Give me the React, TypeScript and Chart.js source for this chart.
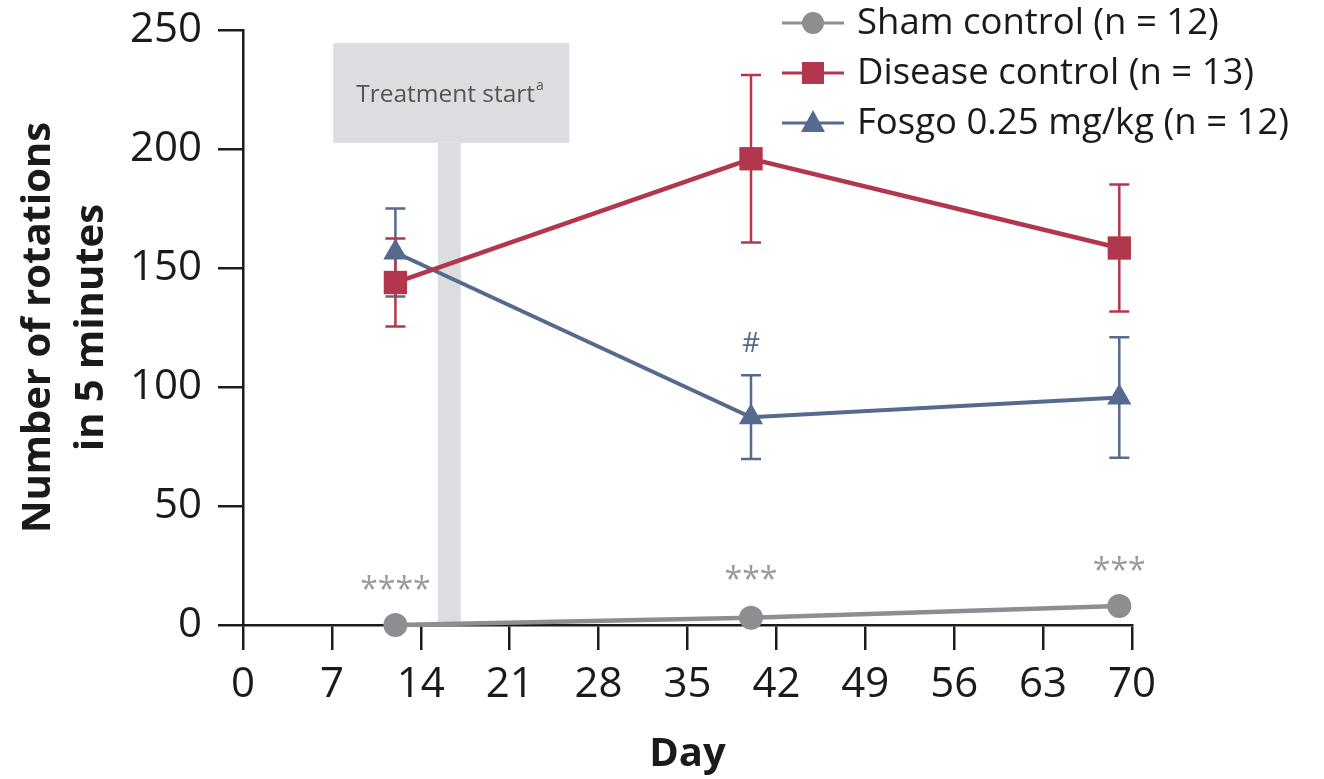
import React, { useEffect, useRef } from "react";
import { Chart, registerables } from "chart.js";

Chart.register(...registerables);

const days = [12, 40, 69];
const shamMeans = [0, 3, 8];
const shamErr = [0, 0, 0];
const diseaseMeans = [143.9, 195.9, 158.4];
const diseaseErr = [18.5, 35.2, 26.7];
const fosgoMeans = [156.5, 87.3, 95.6];
const fosgoErr = [18.5, 17.6, 25.3];

const seriesNames = ["Sham control (n = 12)", "Disease control (n = 13)", "Fosgo 0.25 mg/kg (n = 12)"];
const xTicks = [0, 7, 14, 21, 28, 35, 42, 49, 56, 63, 70];
const yTicks = [0, 50, 100, 150, 200, 250];

const treatmentBox = { x0: 7.1, x1: 25.7, y0: 202.6, y1: 244.5 };
const treatmentBar = { x0: 15.35, x1: 17.15 };
const treatmentLabel = { x: 16.3, y: 222.5, text: "Treatment start", sup: "a" };

const sigDays = [12, 40, 69];
const sigLabels = ["****", "***", "***"];
const sigY = [14.5, 18.5, 22.5];
const hashDay = 40;
const hashY = 118;

const GRAY = "#8d8e91";
const RED = "#b3374c";
const BLUE = "#56698f";
const AXIS = "#1c1c1c";
const BOX = "#dcdde0";
const FONT = "'Open Sans', sans-serif";

export default function App() {
  const ref = useRef<HTMLCanvasElement | null>(null);
  useEffect(() => {
    const canvas = ref.current;
    if (!canvas) return;

    const mk = (vals: number[]) => days.map((d, i) => ({ x: d, y: vals[i] }));
    const errs = [shamErr, diseaseErr, fosgoErr];
    const colors = [GRAY, RED, BLUE];

    const bgPlugin = {
      id: "treatment",
      beforeDatasetsDraw(chart: any) {
        const { ctx, scales } = chart;
        const x = scales.x, y = scales.y;
        ctx.save();
        ctx.fillStyle = BOX;
        const bx0 = x.getPixelForValue(treatmentBox.x0);
        const bx1 = x.getPixelForValue(treatmentBox.x1);
        const by0 = y.getPixelForValue(treatmentBox.y1);
        const by1 = y.getPixelForValue(treatmentBox.y0);
        ctx.fillRect(bx0, by0, bx1 - bx0, by1 - by0);
        const vx0 = x.getPixelForValue(treatmentBar.x0);
        const vx1 = x.getPixelForValue(treatmentBar.x1);
        const vy1 = y.getPixelForValue(0);
        ctx.fillRect(vx0, by1, vx1 - vx0, vy1 - by1);
        // label
        ctx.fillStyle = "#555555";
        ctx.font = `24.5px ${FONT}`;
        ctx.textBaseline = "middle";
        const tw = ctx.measureText(treatmentLabel.text).width;
        ctx.font = `14px ${FONT}`;
        const sw = ctx.measureText(treatmentLabel.sup).width;
        const cx = x.getPixelForValue(treatmentLabel.x);
        const cy = y.getPixelForValue(treatmentLabel.y);
        const start = cx - (tw + sw + 1) / 2;
        ctx.font = `24.5px ${FONT}`;
        ctx.textAlign = "left";
        ctx.fillText(treatmentLabel.text, start, cy);
        ctx.font = `14px ${FONT}`;
        ctx.fillText(treatmentLabel.sup, start + tw + 1, cy - 9);

        // error bars
        for (let di = 2; di >= 0; di--) {
          const meansArr = [shamMeans, diseaseMeans, fosgoMeans][di];
          const e = errs[di];
          ctx.strokeStyle = colors[di];
          ctx.lineWidth = 2.5;
          for (let i = 0; i < days.length; i++) {
            if (!e[i]) continue;
            const px = x.getPixelForValue(days[i]);
            const pt = y.getPixelForValue(meansArr[i] + e[i]);
            const pb = y.getPixelForValue(meansArr[i] - e[i]);
            ctx.beginPath();
            ctx.moveTo(px, pt);
            ctx.lineTo(px, pb);
            ctx.moveTo(px - 10, pt);
            ctx.lineTo(px + 10, pt);
            ctx.moveTo(px - 10, pb);
            ctx.lineTo(px + 10, pb);
            ctx.stroke();
          }
        }
        ctx.restore();
      },
      afterDatasetsDraw(chart: any) {
        const { ctx, scales } = chart;
        const x = scales.x, y = scales.y;
        ctx.save();
        ctx.textAlign = "center";
        ctx.textBaseline = "middle";
        ctx.fillStyle = "#9a9b9e";
        ctx.font = `32px ${FONT}`;
        for (let i = 0; i < sigDays.length; i++) {
          ctx.fillText(sigLabels[i], x.getPixelForValue(sigDays[i]), y.getPixelForValue(sigY[i]));
        }
        ctx.fillStyle = BLUE;
        ctx.font = `28px ${FONT}`;
        ctx.fillText("#", x.getPixelForValue(hashDay), y.getPixelForValue(hashY));

        // legend
        const rows = [23, 73, 123];
        for (let i = 0; i < 3; i++) {
          const ry = rows[i];
          ctx.strokeStyle = colors[i];
          ctx.lineWidth = 3;
          ctx.beginPath();
          ctx.moveTo(782, ry);
          ctx.lineTo(844, ry);
          ctx.stroke();
          ctx.fillStyle = colors[i];
          const mx = 813;
          ctx.beginPath();
          if (i === 0) {
            ctx.arc(mx, ry, 11, 0, Math.PI * 2);
          } else if (i === 1) {
            ctx.rect(mx - 11, ry - 11, 22, 22);
          } else {
            ctx.moveTo(mx, ry - 13);
            ctx.lineTo(mx + 12, ry + 9);
            ctx.lineTo(mx - 12, ry + 9);
            ctx.closePath();
          }
          ctx.fill();
          ctx.fillStyle = "#1a1a1a";
          ctx.font = `36.5px ${FONT}`;
          ctx.textAlign = "left";
          ctx.fillText(seriesNames[i], 857, ry + 1);
        }
        ctx.restore();
      },
    };

    const chart = new Chart(canvas, {
      type: "line",
      data: {
        datasets: [
          { label: seriesNames[0], data: mk(shamMeans), borderColor: GRAY, backgroundColor: GRAY, borderWidth: 4.5, pointStyle: "circle", pointRadius: 12, pointBorderWidth: 0, clip: false as any },
          { label: seriesNames[1], data: mk(diseaseMeans), borderColor: RED, backgroundColor: RED, borderWidth: 4.5, pointStyle: "rect", pointRadius: 16.5, pointBorderWidth: 0, clip: false as any },
          { label: seriesNames[2], data: mk(fosgoMeans), borderColor: BLUE, backgroundColor: BLUE, borderWidth: 4, pointStyle: "triangle", pointRadius: 14, pointBorderWidth: 0, clip: false as any },
        ],
      },
      options: {
        responsive: false,
        animation: false,
        layout: { padding: { top: 30, right: 192, left: 0, bottom: 0 } },
        plugins: { legend: { display: false }, tooltip: { enabled: false } },
        scales: {
          x: {
            type: "linear",
            min: 0,
            max: 70,
            afterBuildTicks: (s: any) => { s.ticks = xTicks.map((v) => ({ value: v })); },
            afterFit: (s: any) => { s.height = 154; s.paddingLeft = 0; s.paddingRight = 0; },
            border: { color: AXIS, width: 2.5 },
            grid: { drawOnChartArea: false, color: AXIS, lineWidth: 2.5, tickLength: 25 },
            ticks: { color: "#1a1a1a", font: { family: FONT, size: 42 }, padding: 10, maxRotation: 0 },
            title: { display: true, text: "Day", color: "#1a1a1a", font: { family: FONT, size: 40, weight: "bold" }, padding: { top: 0, bottom: 0 } },
          },
          y: {
            type: "linear",
            min: 0,
            max: 250,
            afterBuildTicks: (s: any) => { s.ticks = yTicks.map((v) => ({ value: v })); },
            afterFit: (s: any) => { s.width = 243; s.paddingTop = 0; s.paddingBottom = 0; },
            border: { color: AXIS, width: 2.5 },
            grid: { drawOnChartArea: false, color: AXIS, lineWidth: 2.5, tickLength: 25 },
            ticks: { color: "#1a1a1a", font: { family: FONT, size: 42 }, padding: 16 },
            title: { display: true, text: ["Number of rotations", "in 5 minutes"], color: "#1a1a1a", font: { family: FONT, size: 40, weight: "bold", lineHeight: 1.32 }, padding: { top: 12, bottom: 0 } },
          },
        },
      },
      plugins: [bgPlugin],
    });
    return () => chart.destroy();
  }, []);

  return (
    <div style={{ position: "absolute", left: 0, top: 0, width: 1324, height: 779, background: "#ffffff" }}>
      <canvas ref={ref} width={1324} height={779} style={{ display: "block" }} />
    </div>
  );
}
